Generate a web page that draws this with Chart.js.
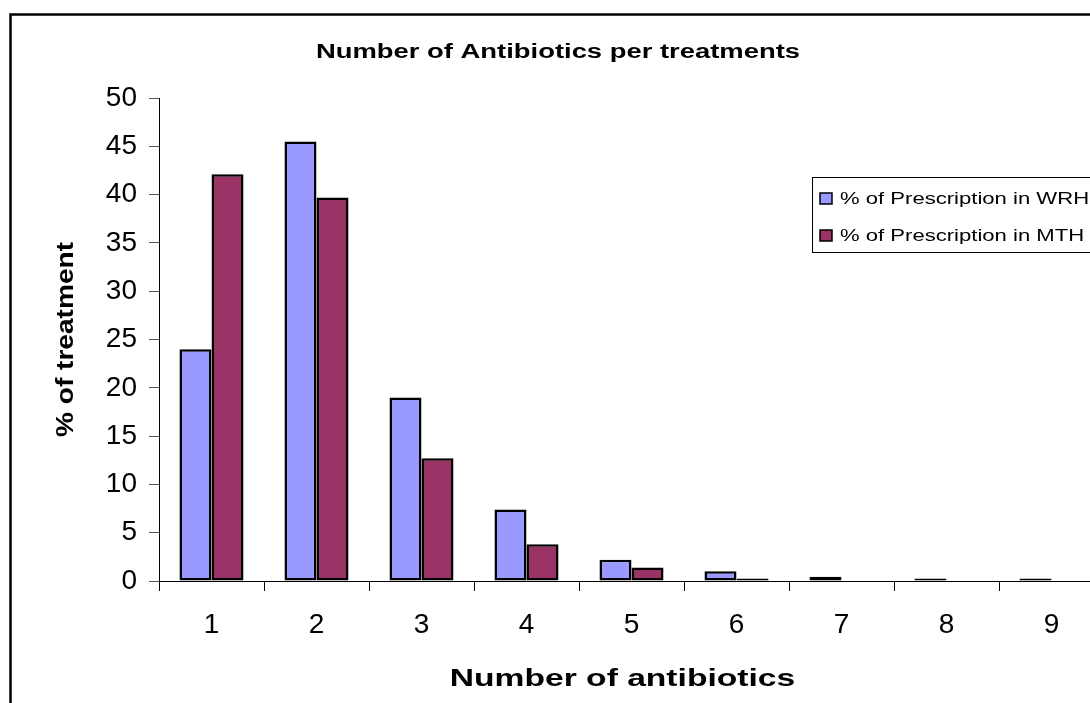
<!DOCTYPE html>
<html>
<head>
<meta charset="utf-8">
<script src="https://cdn.jsdelivr.net/npm/chart.js@4.4.1/dist/chart.umd.min.js"></script>
<style>
  html, body { margin: 0; padding: 0; background: #fff; overflow: hidden; width: 1090px; height: 703px; }
  #wrap { position: absolute; left: 0; top: 0; width: 1120px; height: 703px; }
</style>
</head>
<body>
<div id="wrap"><canvas id="chart" width="1120" height="703"></canvas></div>
<script>
// Number of antibiotics given per treatment, share of treatments (%)
const categories = ['1', '2', '3', '4', '5', '6', '7', '8', '9'];
const wrhValues = [24.0, 45.5, 19.0, 7.4, 2.2, 1.0, 0.45, 0.25, 0.25];
const mthValues = [42.1, 39.7, 12.7, 3.8, 1.4, 0.25, 0, 0, 0];
const yTickValues = [0, 5, 10, 15, 20, 25, 30, 35, 40, 45, 50];
const seriesNames = ['% of Prescription in WRH', '% of Prescription in MTH'];
const seriesColors = ['#9999FF', '#993366'];
const chartTitle = 'Number of Antibiotics per treatments';
const xAxisTitle = 'Number of antibiotics';
const yAxisTitle = '% of treatment';

const FONT = "'Liberation Sans', Arial, sans-serif";

// Draws text widened horizontally (along its own baseline) by `stretch`.
function drawText(ctx, text, x, y, opts) {
  ctx.save();
  ctx.translate(x, y);
  if (opts.angle) ctx.rotate(opts.angle);
  ctx.scale(opts.stretch || 1, 1);
  ctx.font = (opts.weight || 'normal') + ' ' + opts.size + 'px ' + FONT;
  ctx.textAlign = opts.align || 'center';
  ctx.textBaseline = 'alphabetic';
  ctx.fillStyle = '#000';
  ctx.fillText(text, 0, 0);
  ctx.restore();
}

const framePlugin = {
  id: 'frame',
  beforeDraw(chart) {
    const ctx = chart.ctx;
    ctx.save();
    ctx.fillStyle = '#fff';
    ctx.fillRect(0, 0, chart.width, chart.height);
    ctx.strokeStyle = '#000';
    ctx.lineWidth = 2.5;
    ctx.strokeRect(10.5, 14.5, chart.width + 50, chart.height + 50);
    ctx.restore();
  },
  afterDraw(chart) {
    const ctx = chart.ctx;
    const area = chart.chartArea;
    // chart title
    drawText(ctx, chartTitle, 558, 58, { size: 20, weight: 'bold', stretch: 1.37 });
    // axis titles
    drawText(ctx, xAxisTitle, (area.left + area.right) / 2 - 9, 686, { size: 24, weight: 'bold', stretch: 1.4 });
    drawText(ctx, yAxisTitle, 73, (area.top + area.bottom) / 2, { size: 24, weight: 'bold', stretch: 1.17, angle: -Math.PI / 2 });

    // legend box
    ctx.save();
    ctx.strokeStyle = '#000';
    ctx.lineWidth = 1;
    ctx.strokeRect(812.5, 177.5, 400, 75);
    chart.data.datasets.forEach((ds, i) => {
      const base = 204 + i * 37;
      ctx.fillStyle = ds.backgroundColor;
      ctx.fillRect(820, base - 11, 12, 11);
      ctx.lineWidth = 1.5;
      ctx.strokeStyle = '#000';
      ctx.strokeRect(820, base - 11, 12, 11);
      drawText(ctx, ds.label, 840, base, { size: 16, stretch: 1.38, align: 'left' });
    });
    ctx.restore();
  }
};

new Chart(document.getElementById('chart'), {
  type: 'bar',
  data: {
    labels: categories,
    datasets: [
      {
        label: seriesNames[0],
        data: wrhValues,
        backgroundColor: seriesColors[0],
        borderColor: '#000',
        borderWidth: 2.5,
        borderSkipped: false,
        categoryPercentage: 0.61,
        barPercentage: 1.0
      },
      {
        label: seriesNames[1],
        data: mthValues,
        backgroundColor: seriesColors[1],
        borderColor: '#000',
        borderWidth: 2.5,
        borderSkipped: false,
        categoryPercentage: 0.61,
        barPercentage: 1.0
      }
    ]
  },
  options: {
    responsive: false,
    animation: false,
    devicePixelRatio: 1,
    layout: { padding: { left: 20, top: 98, right: 16, bottom: 0 } },
    plugins: {
      legend: { display: false },
      title: { display: false },
      tooltip: { enabled: false }
    },
    scales: {
      x: {
        grid: { offset: true, drawOnChartArea: false, tickLength: 10, color: '#000', lineWidth: 1 },
        border: { color: '#000', width: 1 },
        ticks: { font: { family: FONT, size: 28 }, color: '#000', padding: 17, maxRotation: 0 },
        afterFit(scale) { scale.height = 122; }
      },
      y: {
        min: 0,
        max: 50,
        afterBuildTicks(scale) { scale.ticks = yTickValues.map(v => ({ value: v })); },
        grid: { drawOnChartArea: false, tickLength: 10, color: '#555', lineWidth: 1 },
        border: { color: '#000', width: 1 },
        ticks: { font: { family: FONT, size: 28 }, color: '#000', padding: 12 },
        afterFit(scale) { scale.width = 139; }
      }
    }
  },
  plugins: [framePlugin]
});
</script>
</body>
</html>
